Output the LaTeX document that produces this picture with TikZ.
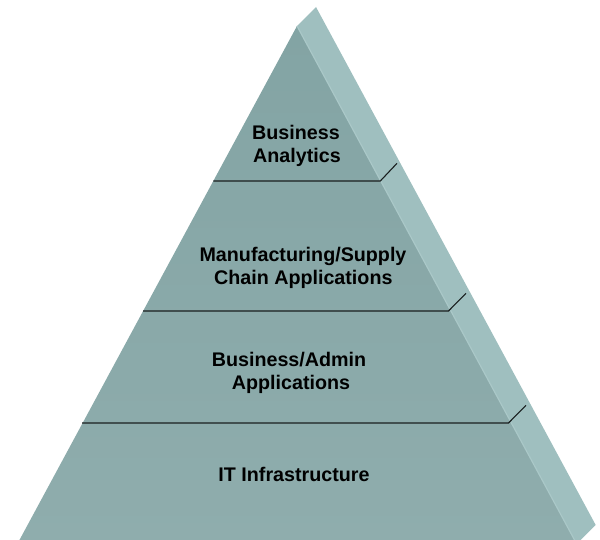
\documentclass[tikz,border=0pt]{standalone}
\usepackage{fontspec}
\setmainfont{Liberation Sans}
\definecolor{frontTop}{RGB}{131,164,164}
\definecolor{frontBot}{RGB}{143,173,173}
\definecolor{sideFace}{RGB}{159,191,191}
\definecolor{edgeHi}{RGB}{170,200,200}
\definecolor{bandLine}{RGB}{25,30,30}
\tikzset{
  lbl/.style={anchor=base, inner sep=0pt, font=\fontsize{19.7}{22.5}\selectfont\bfseries, text=black},
  divider/.style={draw=bandLine, line width=1.1pt}
}
\begin{document}
\begin{tikzpicture}[x=1pt,y=-1pt]
\useasboundingbox (0,0) rectangle (600,540);
\clip (0,0) rectangle (600,540);
% apex and base
\coordinate (apex) at (297,26);
\coordinate (back) at (316,7);
\coordinate (bl) at (17.3,544);
\coordinate (br) at (576.7,544);
\coordinate (bbr) at (595.7,525);
% side face
\fill[sideFace] (apex) -- (back) -- (bbr) -- (br) -- cycle;
% front face
\shade[top color=frontTop, bottom color=frontBot] (apex) -- (bl) -- (br) -- cycle;
\draw[edgeHi, line width=1.2pt] (apex) -- (br);
% dividers
\coordinate (l1a) at (213.3,181); \coordinate (l1b) at (380.3,181); \coordinate (l1c) at (397,163.3);
\coordinate (l2a) at (143,311); \coordinate (l2b) at (448.5,311); \coordinate (l2c) at (466,293.3);
\coordinate (l3a) at (82,423); \coordinate (l3b) at (508.5,423); \coordinate (l3c) at (526,405.3);
\draw[divider] (l1a) -- (l1b) -- (l1c);
\draw[divider] (l2a) -- (l2b) -- (l2c);
\draw[divider] (l3a) -- (l3b) -- (l3c);
% labels
\node[lbl] (t1a) at (296,140) {Business};
\node[lbl] (t1b) at (297,162.5) {Analytics};
\node[lbl] (t2a) at (303,261.7) {Manufacturing/Supply};
\node[lbl] (t2b) at (303.3,284.3) {Chain Applications};
\node[lbl] (t3a) at (289,366.7) {Business/Admin};
\node[lbl] (t3b) at (291,389) {Applications};
\node[lbl] (t4) at (294,481.7) {IT Infrastructure};
\end{tikzpicture}
\end{document}
